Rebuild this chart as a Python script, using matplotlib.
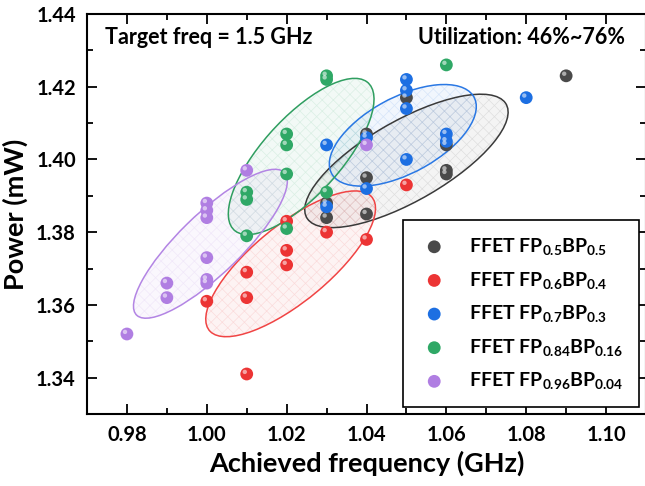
import numpy as np
import matplotlib
matplotlib.use("Agg")
import matplotlib.pyplot as plt
from matplotlib.patches import Ellipse
from matplotlib.transforms import offset_copy

plt.rcParams['font.family'] = ['Lato', 'DejaVu Sans']
plt.rcParams['font.weight'] = 'bold'
plt.rcParams['mathtext.fontset'] = 'custom'
plt.rcParams['mathtext.rm'] = 'Lato:bold'
plt.rcParams['mathtext.it'] = 'Lato:bold'
plt.rcParams['mathtext.bf'] = 'Lato:bold'
plt.rcParams['hatch.linewidth'] = 0.5

# data: (frequency GHz, power mW)
freq_55 = [1.03, 1.03, 1.04, 1.04, 1.04, 1.05, 1.06, 1.06, 1.06, 1.09]
pow_55 = [1.388, 1.384, 1.407, 1.395, 1.385, 1.417, 1.404, 1.397, 1.396, 1.423]

freq_64 = [1.00, 1.01, 1.01, 1.01, 1.02, 1.02, 1.02, 1.03, 1.04, 1.05]
pow_64 = [1.361, 1.369, 1.362, 1.341, 1.383, 1.375, 1.371, 1.380, 1.378, 1.393]

freq_73 = [1.03, 1.03, 1.04, 1.04, 1.05, 1.05, 1.05, 1.05, 1.06, 1.06, 1.08]
pow_73 = [1.404, 1.387, 1.406, 1.392, 1.422, 1.419, 1.414, 1.400, 1.407, 1.405, 1.417]

freq_84 = [1.01, 1.01, 1.01, 1.02, 1.02, 1.02, 1.02, 1.03, 1.03, 1.03, 1.06]
pow_84 = [1.391, 1.389, 1.379, 1.407, 1.404, 1.396, 1.381, 1.423, 1.422, 1.391, 1.426]

freq_96 = [0.98, 0.99, 0.99, 1.00, 1.00, 1.00, 1.00, 1.00, 1.00, 1.01, 1.04]
pow_96 = [1.352, 1.366, 1.362, 1.388, 1.386, 1.384, 1.373, 1.367, 1.366, 1.397, 1.404]

labels = ['FFET FP$_{0.5}$BP$_{0.5}$', 'FFET FP$_{0.6}$BP$_{0.4}$',
          'FFET FP$_{0.7}$BP$_{0.3}$', 'FFET FP$_{0.84}$BP$_{0.16}$',
          'FFET FP$_{0.96}$BP$_{0.04}$']
colors = ['#4a4a4a', '#ec3434', '#1d6fe2', '#2fa866', '#b07ee2']
line_colors = ['#3a3a3a', '#f04444', '#2a78e4', '#2f9e60', '#b385e4']

groups = [(freq_55, pow_55), (freq_64, pow_64), (freq_73, pow_73),
          (freq_84, pow_84), (freq_96, pow_96)]


def conf_ellipse(x, y, conf=0.99):
    # confidence ellipse for the mean (Origin style)
    x = np.asarray(x)
    y = np.asarray(y)
    n = len(x)
    cov = np.cov(x, y)
    m = n - 2
    fq = m / 2.0 * ((1 - conf) ** (-2.0 / m) - 1)
    k = np.sqrt(2.0 * (n - 1) / (n * m) * fq)
    vals, vecs = np.linalg.eigh(cov)
    order = vals.argsort()[::-1]
    vals = vals[order]
    vecs = vecs[:, order]
    angle = np.degrees(np.arctan2(vecs[1, 0], vecs[0, 0]))
    return (x.mean(), y.mean()), 2 * k * np.sqrt(vals[0]), 2 * k * np.sqrt(vals[1]), angle


fig = plt.figure(figsize=(6.45, 4.86), dpi=100)
ax = fig.add_axes([87 / 645, 1 - 414 / 486, 559 / 645, 400 / 486])

for (fx, py), c, lc in zip(groups, colors, line_colors):
    center, w, h, ang = conf_ellipse(fx, py)
    fill = Ellipse(center, w, h, angle=ang, facecolor=matplotlib.colors.to_rgba(c, 0.06),
                   edgecolor=matplotlib.colors.to_rgba(c, 0.12), hatch='xxx', lw=0, zorder=1)
    ax.add_patch(fill)
    edge = Ellipse(center, w, h, angle=ang, fill=False, edgecolor=lc, lw=1.1, zorder=2)
    ax.add_patch(edge)

hl = offset_copy(ax.transData, fig=fig, x=-1.4, y=1.5, units='points')
for (fx, py), c, lab in zip(groups, colors, labels):
    ax.scatter(fx, py, s=85, color=c, edgecolors='none', zorder=3, label=lab)
    ax.scatter(fx, py, s=10, color='white', alpha=0.55, edgecolors='none', zorder=4, transform=hl)

ax.set_xlim(0.97, 1.11)
ax.set_ylim(1.33, 1.44)
ax.set_xticks([0.98, 1.00, 1.02, 1.04, 1.06, 1.08, 1.10])
ax.set_yticks([1.34, 1.36, 1.38, 1.40, 1.42, 1.44])
ax.set_xticks(np.arange(0.97, 1.111, 0.01), minor=True)
ax.set_yticks(np.arange(1.33, 1.441, 0.01), minor=True)
ax.tick_params(which='both', direction='in', top=True, right=True, width=1.3,
               labelsize=14.5, pad=8)
ax.tick_params(which='major', length=7)
ax.tick_params(which='minor', length=4)
for sp in ax.spines.values():
    sp.set_linewidth(1.5)

ax.set_xlabel('Achieved frequency (GHz)', fontsize=19.5, fontweight='bold', labelpad=4)
ax.set_ylabel('Power (mW)', fontsize=19.5, fontweight='bold', labelpad=6)

ax.text(0.032, 0.94, 'Target freq = 1.5 GHz', transform=ax.transAxes, fontsize=15.5,
        fontweight='bold', va='center', ha='left')
ax.text(0.962, 0.94, 'Utilization: 46%~76%', transform=ax.transAxes, fontsize=15.5,
        fontweight='bold', va='center', ha='right')

leg = ax.legend(loc='lower right', bbox_to_anchor=(0.9875, 0.0175), borderaxespad=0,
                fontsize=14, frameon=True, fancybox=False, framealpha=1,
                edgecolor='black', handletextpad=1.0, labelspacing=0.65,
                borderpad=0.8, handlelength=1.6)
leg.get_frame().set_linewidth(1.2)

fig.savefig('out.png', dpi=100)
